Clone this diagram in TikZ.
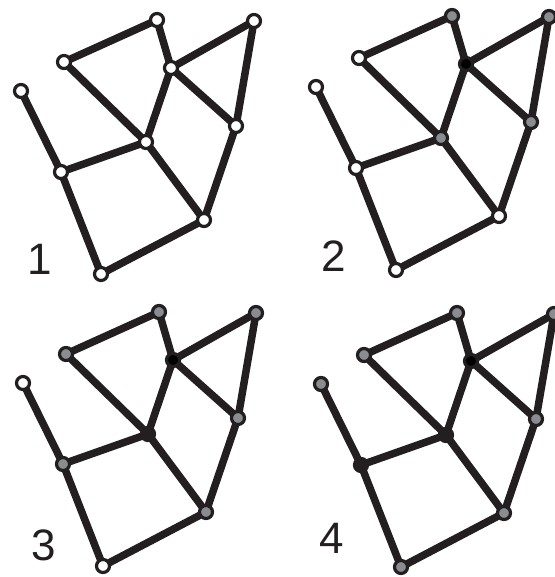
\documentclass[tikz,border=0pt]{standalone}
\usepackage{fontspec}
\setmainfont{Liberation Sans}
\usetikzlibrary{backgrounds}
\definecolor{netdark}{RGB}{35,31,32}
\definecolor{netgray}{RGB}{138,141,144}

% one panel: prefix, shift, vertex fills, number, number position
\newcommand{\netpanel}[5]{%
  \begin{scope}[shift={#2}]
    \foreach \v/\px/\py in {A/157/20,B/254/21,C/64/62,D/171/68,E/21/91,
                            F/236/126,G/146/142,H/61/172,I/204/220,J/101/274}
      \coordinate (#1p\v) at (\px,\py);
    \foreach \v/\s in {#3}
      \node[\s] (#1\v) at (#1p\v) {};
    \begin{pgfonlayer}{background}
      \foreach \a/\b in {A/C,A/D,D/B,B/F,D/F,D/G,C/G,G/H,E/H,H/J,J/I,G/I,F/I}
        \draw[link] (#1\a.center) -- (#1\b.center);
    \end{pgfonlayer}
    \node[panelno] (#1num) at #5 {#4};
  \end{scope}}

\begin{document}
\begin{tikzpicture}[x=1pt,y=-1pt,
    vtx/.style={circle,draw=netdark,line width=3.2pt,minimum size=13pt,inner sep=0pt},
    wht/.style={vtx,fill=white},
    gry/.style={vtx,fill=netgray},
    blk/.style={vtx,fill=black},
    drk/.style={vtx,fill=netdark},
    link/.style={draw=netdark,line width=7.5pt},
    panelno/.style={font=\fontsize{44}{44}\selectfont,text=netdark,inner sep=0pt}]
  \useasboundingbox (0,0) rectangle (554,577);

  \netpanel{a}{(0,0)}{A/wht,B/wht,C/wht,D/wht,E/wht,F/wht,G/wht,H/wht,I/wht,J/wht}{1}{(40,259)}
  \netpanel{b}{(295,-4)}{A/gry,B/gry,C/wht,D/blk,E/wht,F/gry,G/gry,H/wht,I/wht,J/wht}{2}{(39,260)}
  \netpanel{c}{(2,292)}{A/gry,B/gry,C/gry,D/blk,E/wht,F/gry,G/drk,H/gry,I/gry,J/wht}{3}{(42,253)}
  \netpanel{d}{(300,293)}{A/gry,B/gry,C/gry,D/blk,E/gry,F/gry,G/drk,H/drk,I/gry,J/gry}{4}{(32,245)}
\end{tikzpicture}
\end{document}
